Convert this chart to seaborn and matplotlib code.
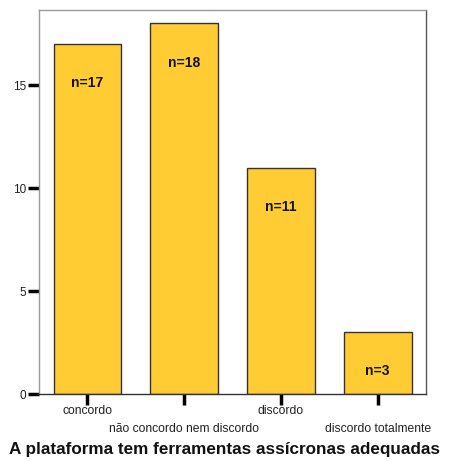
import pandas as pd
import numpy as np
import seaborn as sns
import matplotlib.pyplot as plt

# data
categories = ['concordo', 'não concordo nem discordo', 'discordo', 'discordo totalmente']
counts = [17, 18, 11, 3]
ylabels_ticks = [0, 5, 10, 15]
title = 'A plataforma tem ferramentas assícronas adequadas'

df = pd.DataFrame({'resposta': categories, 'n': counts})

sns.set_style('white')
plt.rcParams['font.family'] = ['Liberation Sans', 'DejaVu Sans']

fig = plt.figure(figsize=(4.5, 4.61), dpi=100)
ax = fig.add_axes([0.0867, 0.1453, 0.86, 0.833])

sns.barplot(data=df, x='resposta', y='n', color='#FFCC33', width=0.7,
            edgecolor='#333333', linewidth=1, saturation=1, ax=ax)

# n=.. labels inside the bars
for i, v in enumerate(counts):
    ax.text(i, v - 1.9, 'n=%d' % v, ha='center', va='center',
            fontsize=10, fontweight='bold', color='#111111')

ax.set_xlim(-0.5, 3.5)
ax.set_ylim(0, 18.65)
ax.set_yticks(ylabels_ticks)
ax.set_yticklabels([str(t) for t in ylabels_ticks], fontsize=8.5, color='#222222')

# staggered category labels
ax.set_xticks(range(len(categories)))
ax.set_xticklabels(['' for c in categories])
for i, c in enumerate(categories):
    yoff = -0.045 if i % 2 == 0 else -0.09
    ax.text(i, yoff, c, transform=ax.get_xaxis_transform(), ha='center',
            va='center', fontsize=8.7, color='#222222')

ax.tick_params(axis='both', direction='out', length=8, width=2.5, color='black',
               left=True, bottom=True, pad=1)

for side in ['left', 'top']:
    ax.spines[side].set_color('#999999')
ax.spines['right'].set_color('#555555')
ax.spines['bottom'].set_color('#333333')
for s in ax.spines.values():
    s.set_linewidth(1)

ax.set_xlabel('')
ax.set_ylabel('')
fig.text(0.498, 0.026, title, ha='center', va='center', fontsize=12.3,
         fontweight='bold', color='#111111')

plt.savefig('out.png', dpi=100)
